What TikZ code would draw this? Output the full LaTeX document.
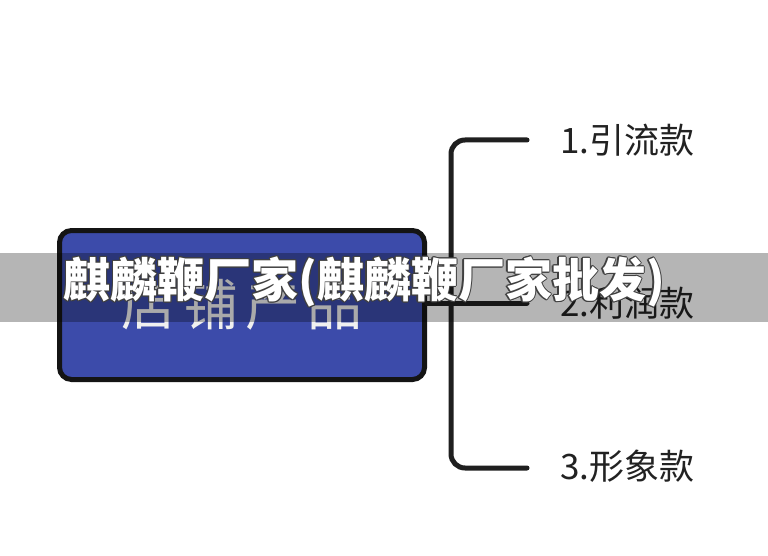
\documentclass[tikz,border=0pt]{standalone}
\usepackage{fontspec}
\newfontfamily\cjk{Noto Sans CJK SC}
\definecolor{boxblue}{HTML}{3C4BAA}
\definecolor{inktext}{HTML}{222222}
\newcommand\wmcopy[3]{\makebox[0pt][l]{\hspace*{#1}\raisebox{#2}{\textcolor{black!75}{#3}}}}
\newcommand\wmoutlined[1]{%
  \wmcopy{-1.1pt}{0pt}{#1}\wmcopy{1.1pt}{0pt}{#1}%
  \wmcopy{0pt}{-1.1pt}{#1}\wmcopy{0pt}{1.1pt}{#1}%
  \wmcopy{-0.8pt}{-0.8pt}{#1}\wmcopy{0.8pt}{-0.8pt}{#1}%
  \wmcopy{-0.8pt}{0.8pt}{#1}\wmcopy{0.8pt}{0.8pt}{#1}%
  \textcolor{white}{#1}}
\tikzset{
  rootbox/.style={rectangle, rounded corners=12pt, minimum width=365pt, minimum height=149pt,
    inner sep=0pt, fill=boxblue, draw=black!92, line width=5pt, text=white!88!gray,
    font=\cjk\fontsize{55}{60}\selectfont},
  branch/.style={draw=black!88, line width=5pt, line cap=round},
  itemtext/.style={anchor=west, inner sep=0pt, text=inktext, font=\cjk\fontsize{35}{40}\selectfont},
  wmtext/.style={inner sep=0pt, font=\cjk\bfseries\fontsize{47}{52}\selectfont}
}
\begin{document}
\begin{tikzpicture}[x=1pt,y=-1pt]
\useasboundingbox (0,0) rectangle (768,556);
\fill[white] (0,0) rectangle (768,556);
% root box
\node[rootbox] (root) at (242,305) {店\hspace{7pt}铺\hspace{7pt}产\hspace{7pt}品};
% branch ends
\coordinate (s1) at (451,140);
\coordinate (s3) at (451,468);
\coordinate (e1) at (527,140);
\coordinate (e2) at (527,303);
\coordinate (e3) at (527,468);
\draw[branch, rounded corners=14pt] (e1) -- (s1) -- (s3) -- (e3);
\draw[branch] (root.east |- e2) -- (e2);
% labels
\node[itemtext] (l1) at (560,140) {1.引流款};
\node[itemtext] (l2) at (560,303) {2.利润款};
\node[itemtext] (l3) at (560,466) {3.形象款};
% watermark band
\fill[black, opacity=0.29] (0,253) rectangle (768,322);
\node[wmtext] (wm) at (364,282) {\wmoutlined{麒麟鞭厂家(麒麟鞭厂家批发)}};
\end{tikzpicture}
\end{document}
